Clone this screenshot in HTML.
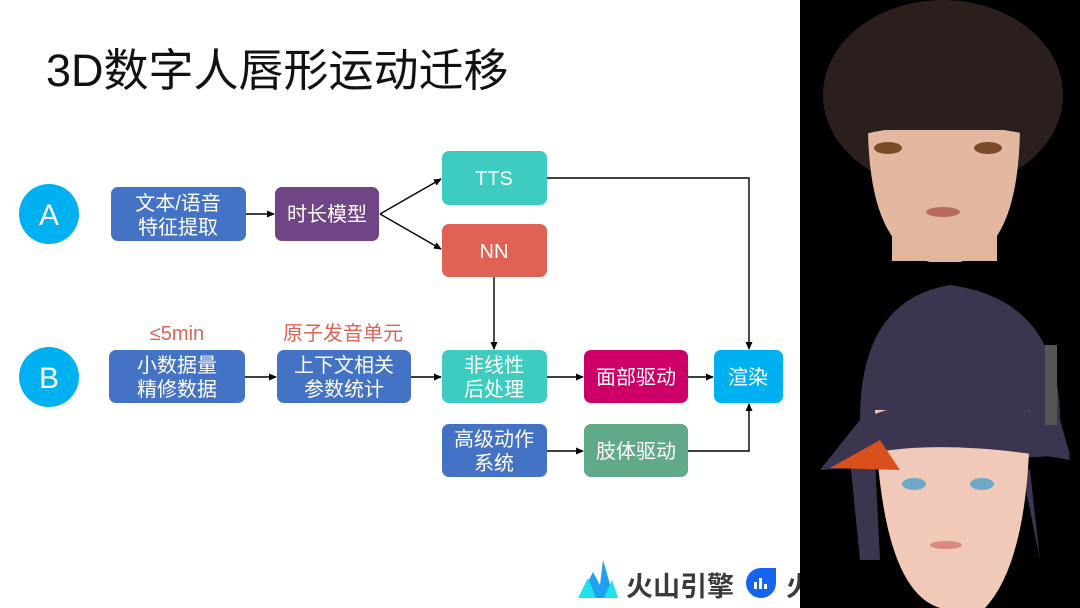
<!DOCTYPE html>
<html><head><meta charset="utf-8"><style>
html,body{margin:0;padding:0;background:#fff;width:1080px;height:608px;overflow:hidden}
svg text{font-family:"Liberation Sans","Noto Sans CJK SC",sans-serif}
</style></head><body>
<svg width="1080" height="608" viewBox="0 0 1080 608" xmlns="http://www.w3.org/2000/svg">
<defs>
<marker id="ar" markerWidth="8" markerHeight="8" refX="7" refY="4" orient="auto" markerUnits="userSpaceOnUse"><path d="M0,0.5 L8,4 L0,7.5z" fill="#000"/></marker>
</defs>
<rect width="1080" height="608" fill="#fff"/>
<text x="46" y="86" font-size="45" fill="#111">3D数字人唇形运动迁移</text>

<circle cx="49" cy="214" r="30" fill="#00b0f0"/>
<text x="49" y="225" font-size="30" fill="#fff" text-anchor="middle">A</text>
<circle cx="49" cy="377" r="30" fill="#00b0f0"/>
<text x="49" y="388" font-size="30" fill="#fff" text-anchor="middle">B</text>

<g stroke="#000" stroke-width="1.4" fill="none">
<line x1="246" y1="214" x2="274" y2="214" marker-end="url(#ar)"/>
<line x1="380" y1="214" x2="441" y2="179" marker-end="url(#ar)"/>
<line x1="380" y1="214" x2="441" y2="249" marker-end="url(#ar)"/>
<line x1="494" y1="277" x2="494" y2="349" marker-end="url(#ar)"/>
<line x1="245" y1="377" x2="276" y2="377" marker-end="url(#ar)"/>
<line x1="411" y1="377" x2="441" y2="377" marker-end="url(#ar)"/>
<line x1="547" y1="377" x2="583" y2="377" marker-end="url(#ar)"/>
<line x1="688" y1="377" x2="713" y2="377" marker-end="url(#ar)"/>
<polyline points="547,178 749,178 749,349" marker-end="url(#ar)"/>
<line x1="547" y1="451" x2="583" y2="451" marker-end="url(#ar)"/>
<polyline points="688,451 749,451 749,404" marker-end="url(#ar)"/>
</g>

<g font-size="20" fill="#fff" text-anchor="middle">
<rect x="111" y="187" width="135" height="54" rx="7" fill="#4472c4"/>
<text x="178" y="210" fill="#fff">文本/语音</text><text x="178" y="234" fill="#fff">特征提取</text>
<rect x="275" y="187" width="104" height="54" rx="7" fill="#6f4586"/>
<text x="327" y="221" fill="#fff">时长模型</text>
<rect x="442" y="151" width="105" height="54" rx="7" fill="#3ecbc0"/>
<text x="494" y="185" fill="#fff">TTS</text>
<rect x="442" y="224" width="105" height="53" rx="7" fill="#e06255"/>
<text x="494" y="258" fill="#fff">NN</text>
<rect x="109" y="350" width="136" height="53" rx="7" fill="#4472c4"/>
<text x="177" y="372" fill="#fff">小数据量</text><text x="177" y="396" fill="#fff">精修数据</text>
<rect x="277" y="350" width="134" height="53" rx="7" fill="#4472c4"/>
<text x="344" y="372" fill="#fff">上下文相关</text><text x="344" y="396" fill="#fff">参数统计</text>
<rect x="442" y="350" width="105" height="53" rx="7" fill="#3ecbc0"/>
<text x="494" y="372" fill="#fff">非线性</text><text x="494" y="396" fill="#fff">后处理</text>
<rect x="584" y="350" width="104" height="53" rx="7" fill="#cc0066"/>
<text x="636" y="384" fill="#fff">面部驱动</text>
<rect x="714" y="350" width="69" height="53" rx="7" fill="#00b0f0"/>
<text x="748" y="384" fill="#fff">渲染</text>
<rect x="442" y="424" width="105" height="53" rx="7" fill="#4472c4"/>
<text x="494" y="446" fill="#fff">高级动作</text><text x="494" y="470" fill="#fff">系统</text>
<rect x="584" y="424" width="104" height="53" rx="7" fill="#62a98a"/>
<text x="636" y="458" fill="#fff">肢体驱动</text>
</g>
<text x="177" y="340" font-size="20" fill="#e06255" text-anchor="middle">≤5min</text>
<text x="343" y="340" font-size="20" fill="#e06255" text-anchor="middle">原子发音单元</text>

<polygon points="580,598 593,572 600,585 603,560 614,598" fill="#1fa0f0"/>
<polygon points="578,598 588,578 596,598" fill="#20e0e8"/>
<polygon points="604,598 612,580 618,598" fill="#20e0e8"/>
<text x="626" y="596" font-size="27" font-weight="bold" fill="#3a3a3a">火山引擎</text>
<path d="M761,568 h15 v15 a15,15 0 1 1 -15,-15 z" fill="#1464f0"/>
<rect x="754" y="582" width="3" height="7" fill="#fff"/><rect x="759" y="578" width="3" height="11" fill="#fff"/><rect x="764" y="584" width="3" height="5" fill="#fff"/>
<text x="786" y="596" font-size="27" font-weight="bold" fill="#3a3a3a">火</text>

<rect x="800" y="0" width="280" height="608" fill="#000"/>
<!-- face 1 -->
<ellipse cx="943" cy="95" rx="120" ry="95" fill="#2a1f1c"/>
<path d="M868,130 Q870,250 930,262 L960,262 Q1018,250 1020,130 Z" fill="#e2b9a0"/>
<rect x="892" y="235" width="105" height="26" fill="#e0b69c"/>
<path d="M860,90 Q943,60 1030,90 L1030,135 Q943,115 860,135 Z" fill="#2a1f1c"/>
<ellipse cx="888" cy="148" rx="14" ry="6" fill="#7a4a2a"/>
<ellipse cx="988" cy="148" rx="14" ry="6" fill="#7a4a2a"/>
<ellipse cx="943" cy="212" rx="17" ry="5" fill="#b86a5e"/>
<!-- face 2 -->
<path d="M860,420 Q860,300 950,285 Q1060,300 1060,420 L1070,455 L820,470 Z" fill="#3c3550"/>
<path d="M850,460 L860,560 L880,560 L875,460 Z" fill="#3c3550"/>
<path d="M1020,460 L1040,560 L1030,470 Z" fill="#3c3550"/>
<path d="M875,410 Q880,590 940,608 L985,608 Q1030,560 1030,410 Z" fill="#f0c9b8"/>
<path d="M820,470 Q900,430 1070,460 L1060,420 Q950,380 860,420 Z" fill="#3c3550"/>
<path d="M830,468 L880,440 L900,470 Z" fill="#d8501e"/>
<rect x="1045" y="345" width="12" height="80" fill="#555"/>
<ellipse cx="914" cy="484" rx="12" ry="6" fill="#6fa8c8"/>
<ellipse cx="982" cy="484" rx="12" ry="6" fill="#6fa8c8"/>
<ellipse cx="946" cy="545" rx="16" ry="4" fill="#d88a80"/>
</svg>
</body></html>
